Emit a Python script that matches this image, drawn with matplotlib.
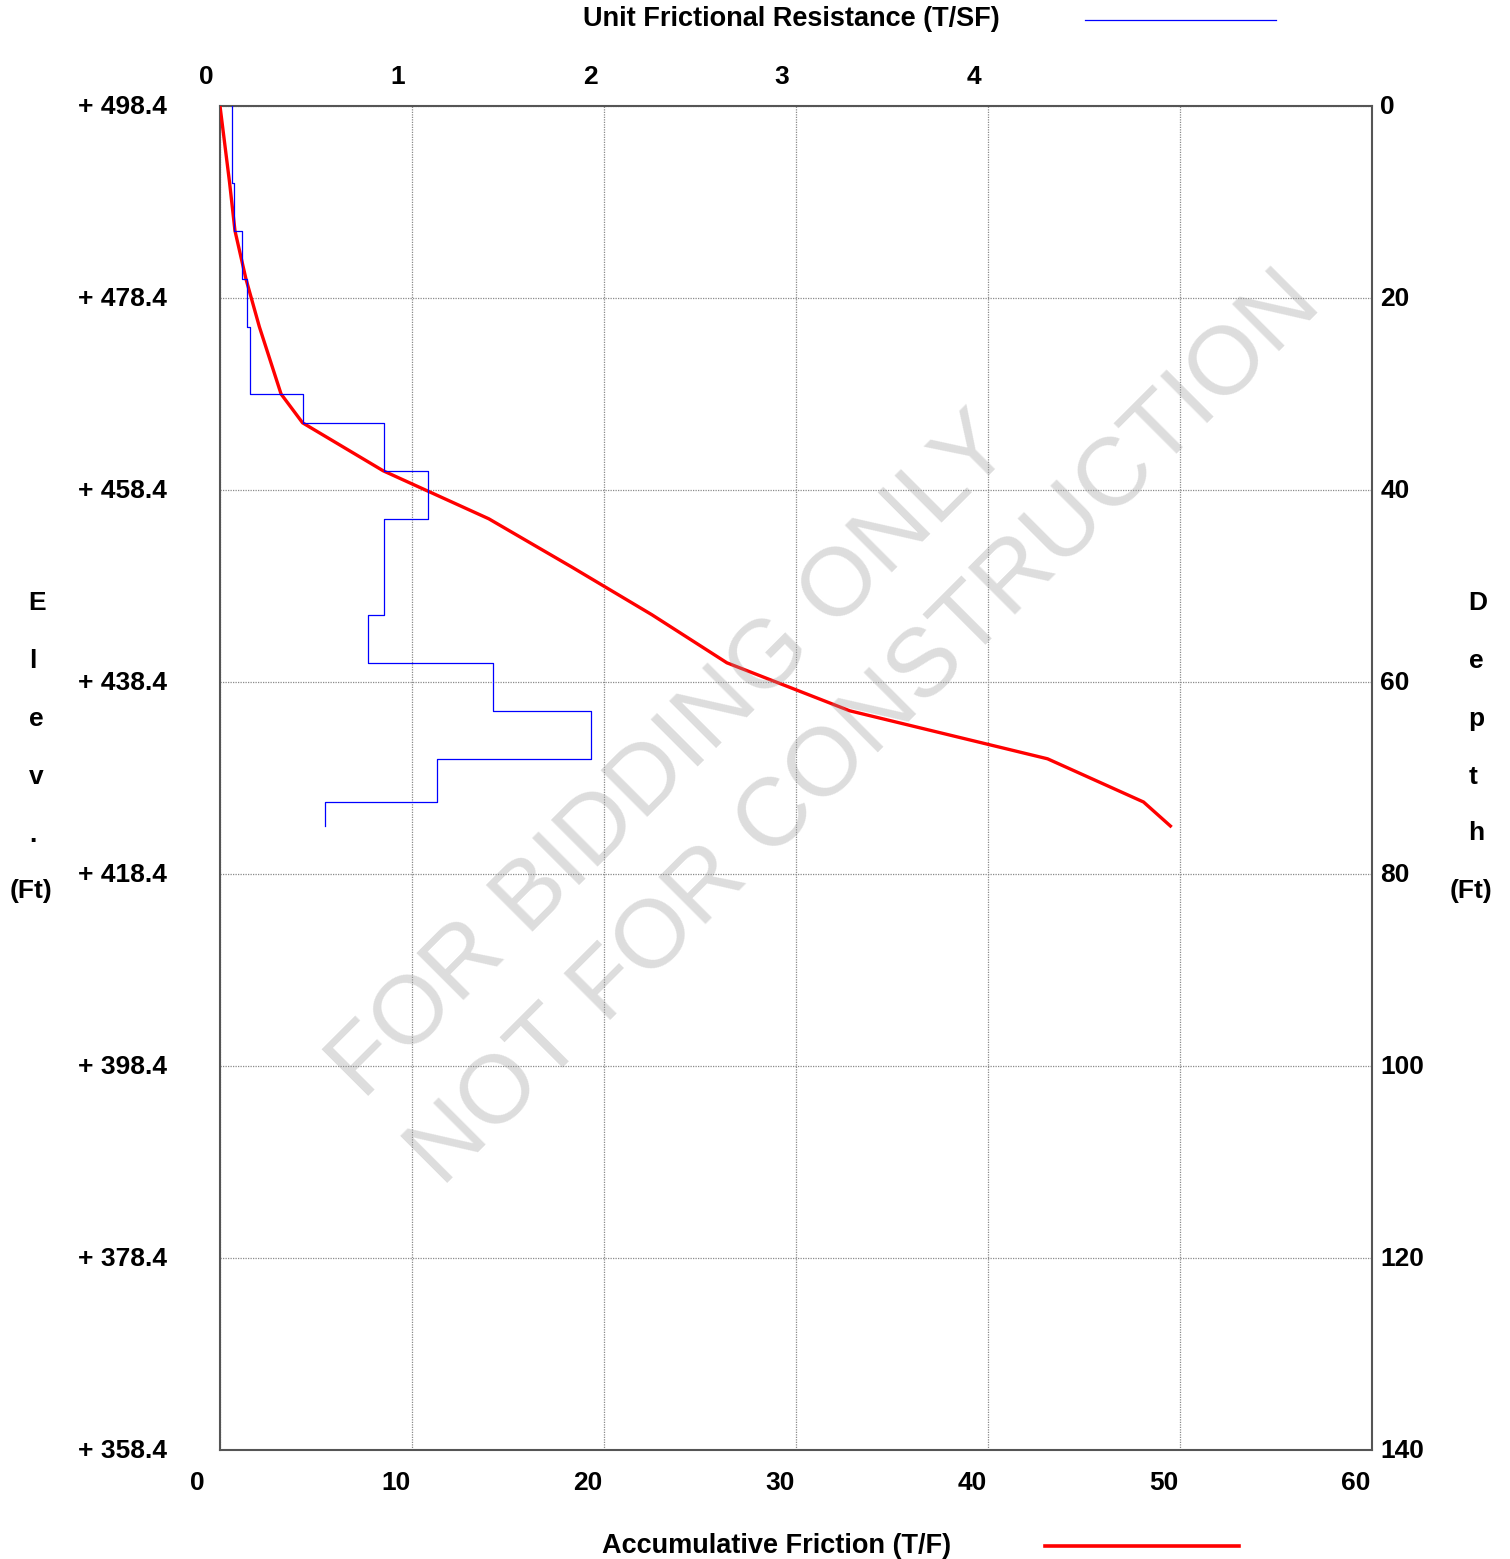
import matplotlib
matplotlib.use("Agg")
import matplotlib.pyplot as plt
from matplotlib.lines import Line2D
from matplotlib.transforms import ScaledTranslation
import numpy as np

plt.rcParams['font.family'] = ['Liberation Sans', 'DejaVu Sans']
plt.rcParams['font.weight'] = 'bold'

# ---------------- data ----------------
# unit frictional resistance (T/SF), step profile by depth (ft)
seg_top_depth = [0, 8, 13, 18, 23, 30, 33, 38, 43, 48, 53, 58, 63, 68, 72.5]
seg_bottom_depth = 75
unit_friction = [0.06, 0.073, 0.116, 0.142, 0.158, 0.432, 0.854, 1.085,
                 0.854, 0.854, 0.773, 1.424, 1.932, 1.128, 0.545]

# accumulative friction (T/F)
acc_depth = [0, 8, 13, 18, 23, 30, 33, 38, 43, 48, 53, 58, 63, 68, 72.5, 75]
acc_friction = [0, 0.5, 0.78, 1.35, 2.05, 3.18, 4.3, 8.5, 14.0, 18.3, 22.5,
                26.4, 32.8, 43.1, 48.1, 49.5]

top_elev = 498.4
depth_ticks = [0, 20, 40, 60, 80, 100, 120, 140]
bottom_ticks = [0, 10, 20, 30, 40, 50, 60]
top_ticks = [0, 1, 2, 3, 4]

# ---------------- figure ----------------
W, H, DPI = 1510, 1559, 100
fig = plt.figure(figsize=(W / DPI, H / DPI), dpi=DPI)
L, R, T, B = 220, 1372, 106, 1450
ax = fig.add_axes([L / W, 1 - B / H, (R - L) / W, (B - T) / H])

FS = 19
grid_kw = dict(color='#8a8a8a', linestyle=(0, (1, 1)), linewidth=0.9)

ax.set_xlim(0, 60)
ax.set_ylim(140, 0)
ax.set_xticks(bottom_ticks)
ax.set_yticks(depth_ticks)
ax.set_yticklabels([f"+ {top_elev - d:.1f}" for d in depth_ticks])
ax.tick_params(axis='both', length=0, labelsize=FS)
ax.tick_params(axis='x', pad=15)
ax.tick_params(axis='y', pad=38)
ax.grid(True, **grid_kw)
ax.set_axisbelow(True)
for s in ax.spines.values():
    s.set_color('#555555')
    s.set_linewidth(1.5)

# right depth axis
axr = ax.twinx()
axr.set_ylim(140, 0)
axr.set_yticks(depth_ticks)
axr.set_yticklabels([str(d) for d in depth_ticks])
axr.tick_params(axis='y', length=0, labelsize=FS, pad=6)
for s in axr.spines.values():
    s.set_visible(False)

# top unit friction axis
axt = ax.twiny()
axt.set_xlim(0, 6)
axt.set_xticks(top_ticks)
axt.tick_params(axis='x', length=0, labelsize=FS, pad=12)
for s in axt.spines.values():
    s.set_visible(False)

# label offsets (labels sit a little left of their gridlines)
for lab in ax.get_xticklabels():
    off = -23 if lab.get_text() == '0' else -16
    lab.set_transform(lab.get_transform() + ScaledTranslation(off / DPI, 0, fig.dpi_scale_trans))
for lab in axt.get_xticklabels():
    lab.set_transform(lab.get_transform() + ScaledTranslation(-14 / DPI, 0, fig.dpi_scale_trans))
for lab in axr.get_yticklabels():
    lab.set_transform(lab.get_transform() + ScaledTranslation(0, 2 / DPI, fig.dpi_scale_trans))
for lab in ax.get_yticklabels():
    lab.set_transform(lab.get_transform() + ScaledTranslation(0, 1 / DPI, fig.dpi_scale_trans))

# blue step profile
xs, ys = [], []
bounds = seg_top_depth + [seg_bottom_depth]
for i, v in enumerate(unit_friction):
    xs += [v, v]
    ys += [bounds[i], bounds[i + 1]]
axt.plot(xs, ys, color='#0000ff', linewidth=0.9, zorder=3)
axt.set_ylim(140, 0)

# red accumulative line
ax.plot(acc_friction, acc_depth, color='#ff0000', linewidth=2.4, zorder=4,
        solid_joinstyle='miter')

# watermark (on top, semi-transparent)
wm_kw = dict(fontsize=70, fontweight='normal', color='#999999', alpha=0.33,
             rotation=45, rotation_mode='anchor', ha='center', va='center',
             zorder=10)
fig.text(672 / W, 1 - 757 / H, "FOR BIDDING ONLY", **wm_kw)
fig.text(865 / W, 1 - 730 / H, "NOT FOR CONSTRUCTION", **wm_kw)

# titles / legends
fig.text(791 / W, 1 - 19 / H, "Unit Frictional Resistance (T/SF)", fontsize=FS + 0.5,
         ha='center', va='center')
fig.add_artist(Line2D([1085 / W, 1276 / W], [1 - 20 / H, 1 - 20 / H],
                      color='#0000ff', linewidth=0.9))
fig.text(777 / W, 1 - 1546 / H, "Accumulative Friction (T/F)", fontsize=FS + 0.5,
         ha='center', va='center')
fig.add_artist(Line2D([1045 / W, 1239 / W], [1 - 1546 / H, 1 - 1546 / H],
                      color='#ff0000', linewidth=2.6))

# vertical axis labels
left_lab = ["E", "l", "e", "v", ".", "(Ft)"]
left_x = [37, 33, 36, 36, 33, 31]
left_y = [603, 661, 719, 777, 835, 891]
for t, x, y in zip(left_lab, left_x, left_y):
    fig.text(x / W, 1 - y / H, t, fontsize=FS, ha='center', va='center')
right_lab = ["D", "e", "p", "t", "h", "(Ft)"]
right_x = [1478, 1476, 1476, 1473, 1476, 1471]
right_y = [603, 661, 719, 777, 833, 891]
for t, x, y in zip(right_lab, right_x, right_y):
    fig.text(x / W, 1 - y / H, t, fontsize=FS, ha='center', va='center')

fig.savefig("out.png", dpi=DPI, facecolor='white')
